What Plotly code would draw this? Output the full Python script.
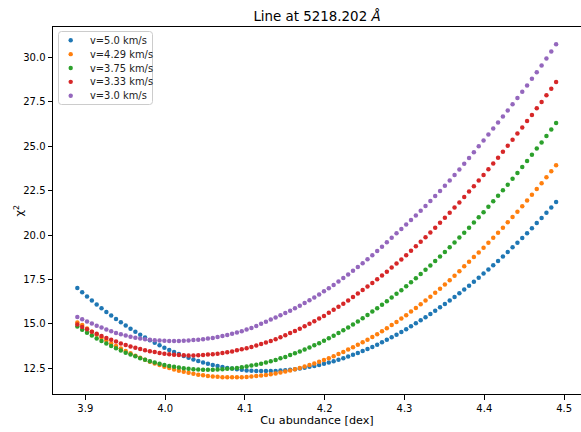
import numpy as np
import plotly.graph_objects as go

# Sampled Cu abundances (dex): 100 evenly spaced grid points
abund_start, abund_stop, n_abund = 3.89, 4.49, 100
abundance = np.linspace(abund_start, abund_stop, n_abund)

labels = ["v=5.0 km/s", "v=4.29 km/s", "v=3.75 km/s", "v=3.33 km/s", "v=3.0 km/s"]
colors = ["#1f77b4", "#ff7f0e", "#2ca02c", "#d62728", "#9467bd"]

chi2_v500 = [
    17.02, 16.78, 16.54, 16.31, 16.09, 15.88, 15.67, 15.47, 15.28, 15.09,
    14.91, 14.73, 14.56, 14.39, 14.23, 14.08, 13.93, 13.79, 13.66, 13.53,
    13.41, 13.30, 13.19, 13.09, 13.00, 12.91, 12.83, 12.76, 12.69, 12.63,
    12.57, 12.52, 12.48, 12.44, 12.41, 12.38, 12.36, 12.35, 12.34, 12.34,
    12.34, 12.35, 12.37, 12.39, 12.42, 12.45, 12.49, 12.53, 12.58, 12.63,
    12.69, 12.76, 12.83, 12.90, 12.98, 13.07, 13.16, 13.26, 13.36, 13.47,
    13.58, 13.70, 13.82, 13.96, 14.10, 14.24, 14.39, 14.54, 14.70, 14.86,
    15.03, 15.20, 15.37, 15.55, 15.74, 15.93, 16.12, 16.32, 16.52, 16.73,
    16.94, 17.15, 17.37, 17.60, 17.83, 18.06, 18.30, 18.54, 18.79, 19.05,
    19.31, 19.57, 19.84, 20.11, 20.39, 20.68, 20.96, 21.26, 21.56, 21.86,
]

chi2_v429 = [
    15.08, 14.93, 14.74, 14.56, 14.39, 14.22, 14.06, 13.90, 13.75, 13.61,
    13.47, 13.34, 13.21, 13.09, 12.98, 12.87, 12.77, 12.68, 12.59, 12.51,
    12.43, 12.36, 12.30, 12.24, 12.19, 12.14, 12.10, 12.07, 12.04, 12.02,
    12.00, 11.99, 11.99, 11.99, 12.00, 12.01, 12.03, 12.06, 12.09, 12.12,
    12.16, 12.21, 12.26, 12.32, 12.38, 12.45, 12.52, 12.60, 12.68, 12.77,
    12.87, 12.97, 13.07, 13.18, 13.30, 13.42, 13.55, 13.68, 13.82, 13.96,
    14.11, 14.26, 14.42, 14.59, 14.76, 14.93, 15.11, 15.30, 15.49, 15.69,
    15.89, 16.10, 16.31, 16.53, 16.75, 16.98, 17.22, 17.46, 17.71, 17.97,
    18.24, 18.50, 18.76, 19.02, 19.29, 19.57, 19.85, 20.13, 20.42, 20.72,
    21.02, 21.32, 21.63, 21.95, 22.27, 22.59, 22.92, 23.26, 23.60, 23.94,
]

chi2_v375 = [
    14.85, 14.67, 14.50, 14.34, 14.18, 14.03, 13.89, 13.75, 13.62, 13.50,
    13.38, 13.27, 13.17, 13.07, 12.98, 12.90, 12.82, 12.75, 12.69, 12.63,
    12.58, 12.54, 12.50, 12.47, 12.45, 12.43, 12.42, 12.42, 12.42, 12.43,
    12.45, 12.47, 12.49, 12.52, 12.56, 12.60, 12.65, 12.70, 12.76, 12.83,
    12.90, 12.97, 13.06, 13.14, 13.24, 13.34, 13.44, 13.55, 13.67, 13.79,
    13.91, 14.05, 14.19, 14.33, 14.48, 14.64, 14.80, 14.96, 15.14, 15.31,
    15.50, 15.69, 15.88, 16.07, 16.27, 16.48, 16.69, 16.90, 17.12, 17.34,
    17.57, 17.81, 18.05, 18.29, 18.54, 18.79, 19.05, 19.32, 19.58, 19.86,
    20.13, 20.42, 20.71, 21.00, 21.29, 21.59, 21.90, 22.21, 22.52, 22.84,
    23.17, 23.50, 23.83, 24.17, 24.52, 24.87, 25.22, 25.58, 25.95, 26.32,
]

chi2_v333 = [
    14.96, 14.82, 14.69, 14.56, 14.44, 14.32, 14.21, 14.10, 14.00, 13.90,
    13.81, 13.73, 13.65, 13.58, 13.52, 13.46, 13.41, 13.36, 13.32, 13.29,
    13.26, 13.24, 13.23, 13.22, 13.22, 13.23, 13.25, 13.27, 13.29, 13.32,
    13.36, 13.40, 13.45, 13.51, 13.57, 13.63, 13.70, 13.78, 13.86, 13.95,
    14.04, 14.14, 14.25, 14.36, 14.48, 14.60, 14.73, 14.86, 15.00, 15.15,
    15.30, 15.45, 15.62, 15.79, 15.96, 16.14, 16.32, 16.52, 16.71, 16.91,
    17.10, 17.30, 17.51, 17.72, 17.94, 18.17, 18.40, 18.63, 18.87, 19.12,
    19.37, 19.62, 19.88, 20.15, 20.42, 20.69, 20.97, 21.26, 21.55, 21.84,
    22.14, 22.45, 22.75, 23.07, 23.38, 23.71, 24.03, 24.36, 24.69, 25.03,
    25.37, 25.72, 26.06, 26.42, 26.77, 27.14, 27.50, 27.87, 28.24, 28.62,
]

chi2_v300 = [
    15.39, 15.26, 15.14, 15.02, 14.90, 14.79, 14.68, 14.58, 14.49, 14.41,
    14.34, 14.28, 14.22, 14.18, 14.14, 14.11, 14.08, 14.06, 14.05, 14.04,
    14.04, 14.04, 14.05, 14.07, 14.09, 14.11, 14.14, 14.17, 14.21, 14.26,
    14.31, 14.37, 14.44, 14.51, 14.59, 14.68, 14.77, 14.88, 15.00, 15.12,
    15.24, 15.36, 15.48, 15.61, 15.74, 15.88, 16.02, 16.17, 16.33, 16.49,
    16.66, 16.83, 17.00, 17.19, 17.38, 17.58, 17.78, 17.99, 18.20, 18.42,
    18.64, 18.87, 19.11, 19.35, 19.60, 19.85, 20.10, 20.35, 20.60, 20.85,
    21.11, 21.37, 21.64, 21.92, 22.20, 22.49, 22.78, 23.08, 23.39, 23.70,
    24.02, 24.34, 24.67, 25.00, 25.33, 25.66, 26.00, 26.34, 26.68, 27.02,
    27.37, 27.72, 28.07, 28.43, 28.80, 29.17, 29.55, 29.94, 30.34, 30.75,
]

x_ticks = [3.9, 4.0, 4.1, 4.2, 4.3, 4.4, 4.5]
y_ticks = [12.5, 15.0, 17.5, 20.0, 22.5, 25.0, 27.5, 30.0]

series = [chi2_v500, chi2_v429, chi2_v375, chi2_v333, chi2_v300]

# Page / plot-area geometry in pixels
W, H = 581, 432
M_L, M_R, M_T, M_B = 53, 0, 27, 38
PW, PH = W - M_L - M_R, H - M_T - M_B


def px_to_paper_x(px):
    return (px - M_L) / PW


def px_to_paper_y(py):
    return (H - M_B - py) / PH


fig = go.Figure()
for name, ys, col in zip(labels, series, colors):
    fig.add_trace(go.Scatter(
        x=abundance, y=ys, mode="markers", name=name, showlegend=False,
        marker=dict(size=4.5, color=col, line=dict(width=0)),
    ))

# Legend drawn as a framed box in the upper-left corner of the axes
box_l, box_r, box_t, box_b, rad = 58.5, 152.5, 31.5, 104.5, 3.0
x0, x1 = px_to_paper_x(box_l), px_to_paper_x(box_r)
y0, y1 = px_to_paper_y(box_b), px_to_paper_y(box_t)
rx, ry = rad / PW, rad / PH
box_path = (
    f"M {x0 + rx},{y0} L {x1 - rx},{y0} Q {x1},{y0} {x1},{y0 + ry} "
    f"L {x1},{y1 - ry} Q {x1},{y1} {x1 - rx},{y1} "
    f"L {x0 + rx},{y1} Q {x0},{y1} {x0},{y1 - ry} "
    f"L {x0},{y0 + ry} Q {x0},{y0} {x0 + rx},{y0} Z"
)
shapes = [dict(
    type="path", path=box_path, xref="paper", yref="paper",
    fillcolor="rgba(255,255,255,0.8)", line=dict(color="#cccccc", width=1),
    layer="above",
)]
annotations = []
first_row, row_step = 40.3, 13.85
for k, (name, col) in enumerate(zip(labels, colors)):
    row_y = px_to_paper_y(first_row + k * row_step)
    shapes.append(dict(
        type="circle", xref="paper", yref="paper",
        xsizemode="pixel", ysizemode="pixel",
        xanchor=px_to_paper_x(70.7), yanchor=row_y,
        x0=-2.2, x1=2.2, y0=-2.2, y1=2.2,
        fillcolor=col, line=dict(width=0), layer="above",
    ))
    annotations.append(dict(
        text=name, xref="paper", yref="paper",
        x=px_to_paper_x(87.5), y=row_y, xanchor="left", yanchor="middle",
        showarrow=False, font=dict(size=9.9, color="#222222"),
    ))

# y-axis label, placed just left of the tick labels
annotations.append(dict(
    text="χ<sup>2</sup>", xref="paper", yref="paper",
    x=px_to_paper_x(18.5), y=px_to_paper_y(211), xanchor="center", yanchor="middle",
    textangle=-90, showarrow=False, font=dict(size=11.2, color="black"),
))

axis_common = dict(
    showgrid=False, zeroline=False,
    showline=True, linecolor="black", linewidth=1, mirror=True,
    ticks="outside", ticklen=4.5, tickwidth=1, tickcolor="black",
    tickfont=dict(size=10, color="black"),
)

fig.update_layout(
    width=W, height=H,
    margin=dict(l=M_L, r=M_R, t=M_T, b=M_B, pad=0),
    paper_bgcolor="white", plot_bgcolor="white",
    font=dict(family="DejaVu Sans", size=10, color="black"),
    title=dict(
        text="Line at 5218.202 <i>Å</i>",
        font=dict(size=13.4, color="black"),
        xref="paper", x=0.5, xanchor="center",
        yref="container", y=1 - 16 / H, yanchor="middle",
    ),
    xaxis=dict(
        range=[3.8595, 4.5212],
        tickvals=x_ticks, ticktext=[f"{v:.1f}" for v in x_ticks],
        title=dict(text="Cu abundance [dex]", font=dict(size=11.2), standoff=3),
        **axis_common,
    ),
    yaxis=dict(
        range=[11.05, 31.72],
        tickvals=y_ticks, ticktext=[f"{v:.1f}" for v in y_ticks],
        **axis_common,
    ),
    shapes=shapes,
    annotations=annotations,
    showlegend=False,
)

fig.write_html("out.html")
